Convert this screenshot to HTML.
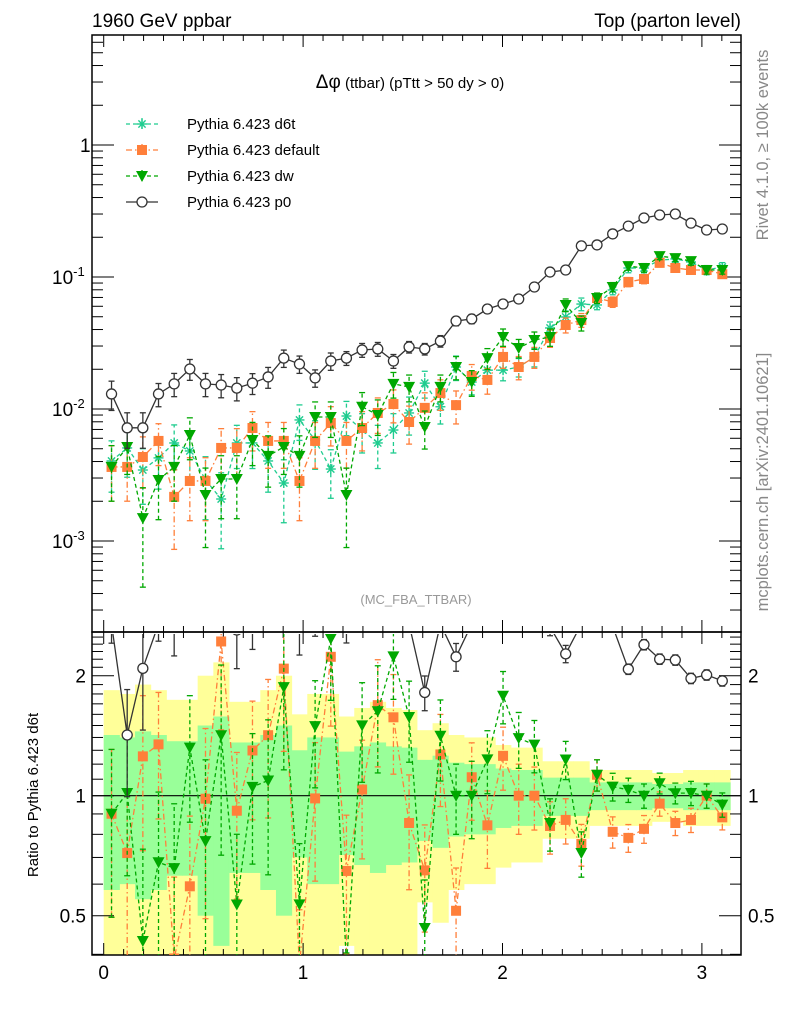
<!DOCTYPE html>
<html><head><meta charset="utf-8"><style>
html,body{margin:0;padding:0;background:#fff;width:786px;height:1024px;overflow:hidden;}
svg{display:block;font-family:"Liberation Sans",sans-serif;}
</style></head><body>
<svg id="chart" width="786" height="1024" viewBox="0 0 786 1024">
<defs>
<clipPath id="clipMain"><rect x="92" y="35" width="649" height="597"/></clipPath>
<clipPath id="clipRatio"><rect x="92" y="634" width="649" height="321"/></clipPath>
</defs>
<text x="92" y="27" font-size="19">1960 GeV ppbar</text>
<text x="741" y="27" font-size="19" text-anchor="end">Top (parton level)</text>
<text x="410" y="88" font-size="15" text-anchor="middle"><tspan font-size="19">Δφ</tspan> (ttbar) (pTtt &gt; 50 dy &gt; 0)</text>
<text x="416" y="604" font-size="13" fill="#999" text-anchor="middle">(MC_FBA_TTBAR)</text>
<text transform="translate(768,145) rotate(-90)" font-size="16.5" fill="#888" text-anchor="middle">Rivet 4.1.0, ≥ 100k events</text>
<text transform="translate(768,482) rotate(-90)" font-size="16.5" fill="#888" text-anchor="middle">mcplots.cern.ch [arXiv:2401.10621]</text>
<text transform="translate(38,795) rotate(-90)" font-size="15" text-anchor="middle">Ratio to Pythia 6.423 d6t</text>
<g id="bands" clip-path="url(#clipRatio)"></g>
<g id="axes"></g>
<g id="mainMarks" clip-path="url(#clipMain)"></g>
<g id="ratioMarks" clip-path="url(#clipRatio)"></g>
<g id="legend"></g>
</svg>
<script>
const nBins = 40;
const d6tVals = [.00404,.00507,.00345,.00426,.00553,.00481,.0029,.00208,.00553,.00553,.00404,.00275,.00826,.00582,.00351,.00885,.00693,.00553,.00693,.00933,.0157,.0104,.0208,.0160,.0197,.0197,.0208,.0248,.0411,.0498,.0624,.0614,.0797,.117,.117,.134,.137,.130,.113,.119];
const defaultVals = [.00364,.00364,.00433,.00573,.00216,.00285,.00285,.00507,.00507,.00718,.00573,.00573,.00285,.00573,.00783,.00573,.00718,.00933,.0109,.00797,.0102,.0132,.0107,.0178,.0166,.0248,.0208,.0248,.0345,.0433,.0472,.0693,.0647,.0917,.0966,.128,.117,.113,.113,.105];
const dwVals = [.00364,.00515,.00149,.0029,.00364,.00635,.00223,.00295,.00295,.00582,.00441,.00515,.00441,.0087,.0087,.00223,.0104,.00901,.0155,.0147,.00731,.0147,.0208,.016,.0243,.0351,.029,.0333,.0351,.0614,.0448,.0693,.084,.121,.117,.144,.139,.132,.113,.113];
const p0Vals = [.0130,.0072,.0072,.0130,.0155,.0201,.0155,.0152,.0144,.0157,.0175,.0243,.0219,.0172,.0231,.0243,.0280,.0285,.0231,.0295,.0285,.0327,.0464,.0481,.0572,.0624,.0681,.0840,.109,.113,.172,.175,.212,.243,.280,.295,.300,.256,.227,.231];
const d6tErr = [.42,.40,.45,.42,.37,.37,.5,.58,.36,.36,.42,.5,.3,.4,.4,.29,.33,.36,.33,.32,.23,.26,.21,.2,.2,.17,.16,.16,.11,.11,.11,.08,.08,.08,.08,.07,.07,.08,.08,.08];
const defaultErr = [.45,.45,.42,.35,.6,.5,.5,.4,.4,.33,.38,.38,.5,.38,.33,.38,.33,.3,.28,.32,.3,.26,.28,.22,.22,.18,.2,.18,.15,.13,.12,.09,.09,.08,.08,.07,.07,.07,.07,.07];
const dwErr = [.45,.38,.7,.5,.45,.35,.6,.5,.5,.36,.42,.38,.42,.3,.3,.6,.28,.3,.22,.23,.32,.23,.2,.22,.18,.15,.16,.15,.15,.11,.13,.09,.08,.07,.07,.06,.06,.07,.07,.07];
const p0Err = [.25,.3,.3,.2,.2,.18,.2,.2,.2,.18,.18,.15,.15,.15,.15,.12,.12,.12,.12,.1,.1,.1,.08,.08,.07,.06,.06,.05,.05,.05,.04,.04,.03,.03,.03,.03,.03,.03,.03,.03];
const xTickLabels = ["0","1","2","3"];
const mainTickLabels = [["1",0],["10","-1"],["10","-2"],["10","-3"]];
const ratioTickLabels = ["0.5","1","2"];

const NS = "http://www.w3.org/2000/svg";
const binW = Math.PI / nBins;
const X = v => 103.7 + v * 199.4;
const clamp = (y, a, b) => Math.max(a, Math.min(b, y));
const YM = v => clamp(409 - (Math.log10(Math.max(v, 1e-9)) + 2) * 132, 25, 642);
const YR = r => clamp(795.7 - Math.log10(Math.max(r, 1e-9)) * 398.6, 624, 965);
function mk(tag, attrs, parent) {
  const e = document.createElementNS(NS, tag);
  for (const k in attrs) e.setAttribute(k, attrs[k]);
  parent.appendChild(e);
  return e;
}
const axes = document.getElementById('axes');
const bands = document.getElementById('bands');
const mainG = document.getElementById('mainMarks');
const ratioG = document.getElementById('ratioMarks');
const legend = document.getElementById('legend');

for (let i = 0; i < nBins; i++) {
  const x0 = X(i * binW), x1 = X((i + 1) * binW), e = d6tErr[i];
  const t = YR(1 + 2 * e), b = YR(1 - 2 * e);
  const y1 = mk('rect', {x: x0, y: t, width: x1 - x0 + 0.5, height: b - t, fill: '#ffff99'}, bands);
  
  
}
for (let i = 0; i < nBins; i++) {
  const x0 = X(i * binW), x1 = X((i + 1) * binW), e = d6tErr[i];
  const t = YR(1 + e), b = YR(1 - e);
  const g1 = mk('rect', {x: x0, y: t, width: x1 - x0 + 0.5, height: b - t, fill: '#99ff99'}, bands);
  
  
}

const f1 = mk('rect', {x: 92, y: 35, width: 649, height: 597, fill: 'none', stroke: '#000', 'stroke-width': 1.5}, axes);


const f2 = mk('rect', {x: 92, y: 632, width: 649, height: 323, fill: 'none', stroke: '#000', 'stroke-width': 1.5}, axes);


const ul = mk('line', {x1: 92, x2: 741, y1: YR(1), y2: YR(1), stroke: '#000', 'stroke-width': 1.2}, axes);



for (let k = 0; k <= 32; k++) {
  const v = k / 10, x = X(v);
  if (x < 92 || x > 741) continue;
  const L = k % 10 === 0 ? 12 : 6;
  [[35, 1], [632, -1], [632, 1], [955, -1]].forEach(([y, d]) => mk('line', {x1: x, x2: x, y1: y, y2: y + d * L, stroke: '#000', 'stroke-width': 1}, axes));
}
xTickLabels.forEach((t, i) => {
  const el = mk('text', {x: X(i), y: 979, 'font-size': 19, 'text-anchor': 'middle'}, axes);
  el.textContent = t;
  
  
});

for (let d = -4; d <= 1; d++) {
  for (let m = 1; m <= 9; m++) {
    const y = 409 - (Math.log10(m * Math.pow(10, d)) + 2) * 132;
    if (y < 35 || y > 632) continue;
    const L = m === 1 ? 22 : 11;
    mk('line', {x1: 92, x2: 92 + L, y1: y, y2: y, stroke: '#000', 'stroke-width': 1}, axes);
    mk('line', {x1: 741, x2: 741 - L, y1: y, y2: y, stroke: '#000', 'stroke-width': 1}, axes);
  }
}
mainTickLabels.forEach((t, i) => {
  const y = YM(Math.pow(10, -i));
  const el = mk('text', {x: i === 0 ? 80 : 52, y: y + 7, 'font-size': 19}, axes);
  
  
  el.textContent = t[0];
  if (i > 0) {
    const s = mk('tspan', {dy: -8, 'font-size': 13}, el);
    s.textContent = t[1];
  }
});

for (let k = 4; k <= 25; k++) {
  const r = k / 10, y = 795.7 - Math.log10(r) * 398.6;
  if (y < 634 || y > 955) continue;
  const L = (k === 5 || k === 10 || k === 20) ? 22 : 11;
  mk('line', {x1: 92, x2: 92 + L, y1: y, y2: y, stroke: '#000', 'stroke-width': 1}, axes);
  mk('line', {x1: 741, x2: 741 - L, y1: y, y2: y, stroke: '#000', 'stroke-width': 1}, axes);
}
ratioTickLabels.forEach(t => {
  const y = YR(parseFloat(t)) + 7;
  const a = mk('text', {x: 86, y: y, 'font-size': 19, 'text-anchor': 'end'}, axes);
  a.textContent = t;
  
  
  const b = mk('text', {x: 748, y: y, 'font-size': 19}, axes);
  b.textContent = t;
  
  
});

function marker(g, type, x, y, color) {
  let el;
  if (type === 'star') {
    el = mk('g', {stroke: color, 'stroke-width': 1.4}, g);
    [[-5,0,5,0],[0,-5,0,5],[-3.6,-3.6,3.6,3.6],[-3.6,3.6,3.6,-3.6]].forEach(p => mk('line', {x1: x + p[0], y1: y + p[1], x2: x + p[2], y2: y + p[3]}, el));
  } else if (type === 'square') {
    el = mk('rect', {x: x - 5, y: y - 5, width: 10, height: 10, fill: color}, g);
  } else if (type === 'tri') {
    el = mk('polygon', {points: `${x - 6},${y - 5} ${x + 6},${y - 5} ${x},${y + 6}`, fill: color}, g);
  } else {
    el = mk('circle', {cx: x, cy: y, r: 5, fill: '#fff', stroke: color, 'stroke-width': 1.3}, g);
  }
  return el;
}

const series = [
  {name: 'd6t', vals: d6tVals, err: d6tErr, color: '#1fcc8f', dash: '4,3', mark: 'star', label: 'Pythia 6.423 d6t'},
  {name: 'default', vals: defaultVals, err: defaultErr, color: '#ff7f3a', dash: '6,3,1.5,3', mark: 'square', label: 'Pythia 6.423 default'},
  {name: 'dw', vals: dwVals, err: dwErr, color: '#00a800', dash: '4,3', mark: 'tri', label: 'Pythia 6.423 dw'},
  {name: 'p0', vals: p0Vals, err: p0Err, color: '#333', dash: '', mark: 'circle', label: 'Pythia 6.423 p0'}
];

function drawSeries(g, s, ys, suffix, showRatio) {
  const grp = mk('g', {}, g);
  
  
  const pts = [];
  for (let i = 0; i < nBins; i++) {
    const x = X((i + 0.5) * binW);
    const v = showRatio ? s.vals[i] / d6tVals[i] : s.vals[i];
    const y = ys(v), yl = ys(v * (1 - s.err[i])), yh = ys(v * (1 + s.err[i]));
    pts.push([x, y]);
    mk('line', {x1: x, x2: x, y1: yl, y2: yh, stroke: s.color, 'stroke-width': 1.3, 'stroke-dasharray': s.dash}, grp);
    mk('line', {x1: x - 3, x2: x + 3, y1: yl, y2: yl, stroke: s.color, 'stroke-width': 1.3}, grp);
    mk('line', {x1: x - 3, x2: x + 3, y1: yh, y2: yh, stroke: s.color, 'stroke-width': 1.3}, grp);
  }
  mk('polyline', {points: pts.map(p => p.join(',')).join(' '), fill: 'none', stroke: s.color, 'stroke-width': 1.3, 'stroke-dasharray': s.dash}, grp);
  pts.forEach(p => {
    const m = marker(grp, s.mark, p[0], p[1], s.color);
    
    
  });
}
series.forEach(s => drawSeries(mainG, s, YM, '', false));
series.slice(1).forEach(s => drawSeries(ratioG, s, YR, '-ratio', true));

series.forEach((s, i) => {
  const y = 124 + i * 26;
  const g = mk('g', {}, legend);
  
  
  mk('line', {x1: 126, x2: 158, y1: y, y2: y, stroke: s.color, 'stroke-width': 1.3, 'stroke-dasharray': s.dash}, g);
  if (s.name !== 'p0') {
    mk('line', {x1: 142, x2: 142, y1: y - 6, y2: y + 6, stroke: s.color, 'stroke-width': 1.3, 'stroke-dasharray': s.dash}, g);
  }
  marker(g, s.mark, 142, y, s.color);
  const t = mk('text', {x: 187, y: y + 5, 'font-size': 15}, g);
  t.textContent = s.label;
});
</script>
</body></html>
